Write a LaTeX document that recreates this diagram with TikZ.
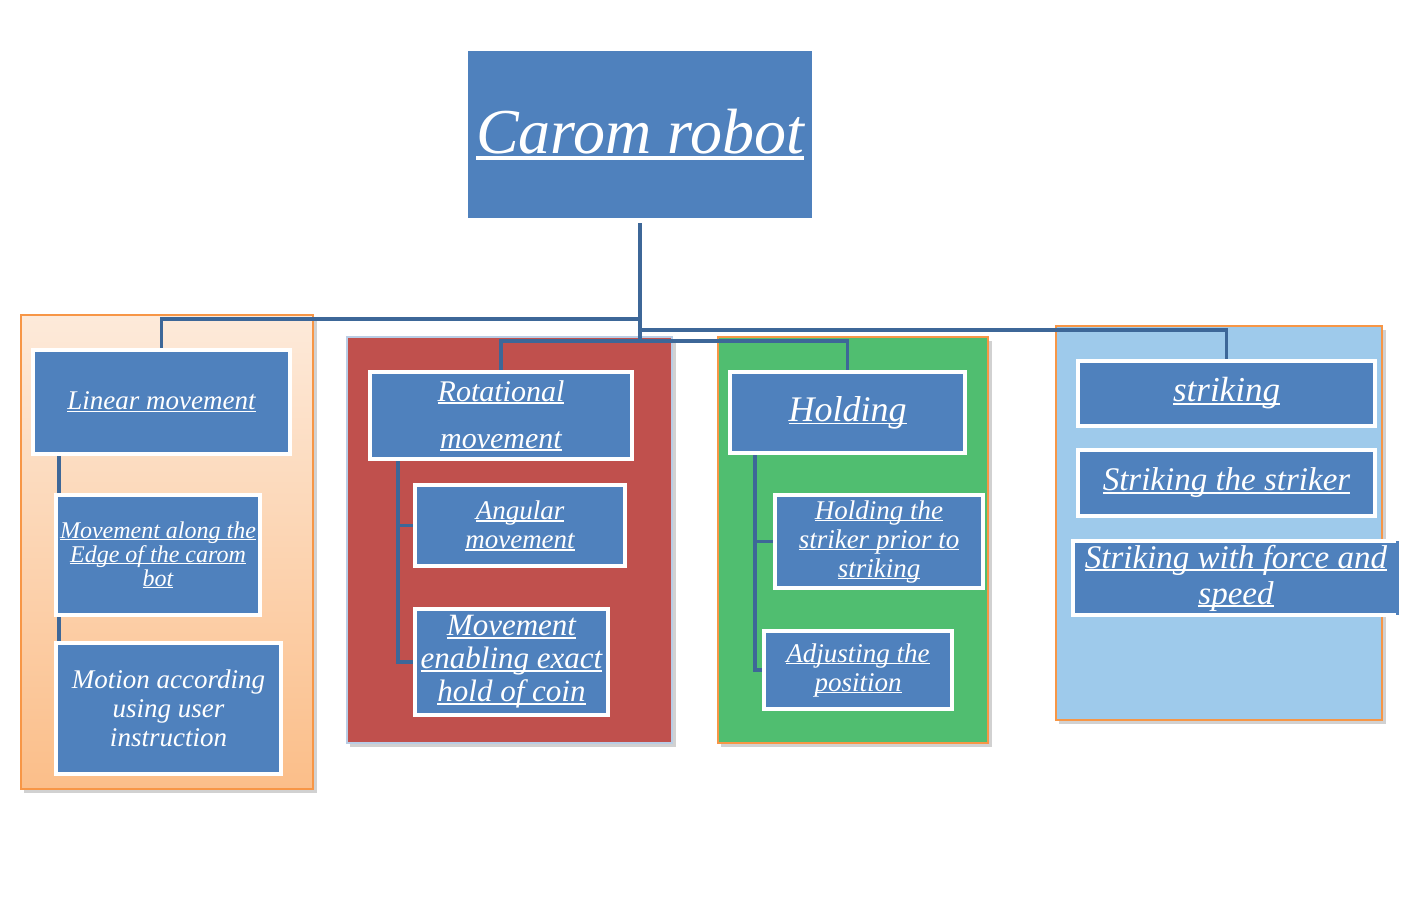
\documentclass[tikz,border=0pt]{standalone}
\usepackage{fontspec}
\setmainfont{Liberation Serif}
\usetikzlibrary{calc}
\definecolor{boxblue}{HTML}{4F81BD}
\definecolor{linkblue}{RGB}{61,103,152}
\definecolor{porange}{HTML}{F79646}
\definecolor{pred}{HTML}{C0504D}
\definecolor{pgreen}{RGB}{80,190,112}
\definecolor{plblue}{RGB}{158,202,235}
\definecolor{pedge}{RGB}{185,205,229}
\definecolor{otop}{RGB}{253,234,218}
\definecolor{obot}{RGB}{251,190,137}
\newcommand\myul[1]{\leavevmode\hbox{\setbox0\hbox{#1}\rlap{\rule[-0.09em]{\wd0}{0.05em}}\box0}}
\pgfdeclarelayer{white}
\pgfdeclarelayer{back}
\pgfdeclarelayer{mid}
\pgfsetlayers{white,back,mid,main}
\tikzset{
  panel/.style={rectangle, inner sep=0pt, outer sep=0pt, line width=2pt},
  cbox/.style={rectangle, fill=boxblue, draw=white, line width=3.5pt, inner sep=0pt, outer sep=0pt, text=white, align=center},
  fs/.style 2 args={font=\itshape\fontsize{#1}{#2}\selectfont},
  link/.style={draw=linkblue, line width=3.8pt},
  pshadow/.style={fill=black, opacity=0.18}
}
\begin{document}
\begin{tikzpicture}[x=1pt,y=-1pt]
\begin{pgfonlayer}{white}
\fill[white] (0,0) rectangle (1413,911);
\end{pgfonlayer}
\useasboundingbox (0,0) rectangle (1413,911);

% boxes
\node[cbox, draw=none, fs={64}{66}, minimum width=344pt, minimum height=167pt] (top) at (640,134.5) {\myul{Carom robot}};

\node[cbox, fs={27}{29}, minimum width=257pt, minimum height=104pt] (lin) at (161.5,402) {\myul{Linear movement}};
\node[cbox, fs={24}{24}, minimum width=204pt, minimum height=120pt] (edge) at (158,555) {\myul{Movement along the}\\\myul{Edge of the carom}\\\myul{bot}};
\node[cbox, fs={27}{29}, minimum width=225pt, minimum height=131pt] (mot) at (168.5,708.5) {Motion according\\using user\\instruction};

\node[cbox, fs={30}{47}, minimum width=262pt, minimum height=87pt] (rot) at (501,415.5) {\myul{Rotational}\\\myul{movement}};
\node[cbox, fs={27}{29}, minimum width=210pt, minimum height=81pt] (ang) at (520,525.5) {\myul{Angular}\\\myul{movement}};
\node[cbox, fs={31}{33}, minimum width=193pt, minimum height=106pt] (mov) at (511.5,662) {\myul{Movement}\\\myul{enabling exact}\\\myul{hold of coin}};

\node[cbox, fs={36}{38}, minimum width=235pt, minimum height=81pt] (hold) at (847.5,412.5) {\myul{Holding}};
\node[cbox, fs={27}{29}, minimum width=208pt, minimum height=93pt] (hp) at (879,541.5) {\myul{Holding the}\\\myul{striker prior to}\\\myul{striking}};
\node[cbox, fs={27}{29}, minimum width=188pt, minimum height=78pt] (adj) at (858,670) {\myul{Adjusting the}\\\myul{position}};

\node[cbox, fs={35}{37}, minimum width=297pt, minimum height=65pt] (strk) at (1226.5,393.5) {\myul{striking}};
\node[cbox, fs={33}{35}, minimum width=297pt, minimum height=66pt] (sts) at (1226.5,483) {\myul{Striking the striker}};
\node[cbox, draw=none, fs={33}{36}, minimum width=326pt, minimum height=74pt] (swf) at (1236,578) {\myul{Striking with force and}\\\myul{speed}};
\draw[white, line width=3.5pt] ([xshift=-3pt]swf.north east) -- (swf.north west) -- (swf.south west) -- ([xshift=-3pt]swf.south east);

% connectors
\begin{pgfonlayer}{mid}
\coordinate (j1) at (640,319);
\coordinate (j2) at (640,330);
\coordinate (j3) at (640,341);
\draw[link] ([yshift=-5pt]top.south) -- (j3);
\draw[link] (j1) -| (lin.north);
\draw[link] (j2) -| (strk.north);
\draw[link] (rot.north) |- (j3) -| (hold.north);
\draw[link] ([xshift=3pt]edge.west |- lin.south) -- ([xshift=3pt]mot.north west);
\coordinate (rv) at ([xshift=28pt]rot.south west);
\draw[link] (rv) |- (mov.west);
\draw[link] (ang.west) -| (rv);
\coordinate (gv) at ([xshift=25pt]hold.south west);
\draw[link] (gv) |- (adj.west);
\draw[link] (hp.west) -| (gv);
\end{pgfonlayer}

% panels
\begin{pgfonlayer}{back}
\fill[pshadow] (24,319) rectangle (317,793);
\fill[pshadow] (350,341) rectangle (676,747);
\fill[pshadow] (721,341) rectangle (992,747);
\fill[pshadow] (1059,330) rectangle (1386,724);
\node[panel, draw=porange, top color=otop, bottom color=obot, minimum width=292pt, minimum height=474pt] (p1) at (167,552) {};
\node[panel, draw=pedge, fill=pred, minimum width=325pt, minimum height=406pt] (p2) at (509.5,540) {};
\node[panel, draw=porange, fill=pgreen, minimum width=270pt, minimum height=406pt] (p3) at (853,540) {};
\node[panel, draw=porange, fill=plblue, minimum width=326pt, minimum height=394pt] (p4) at (1219,523) {};
\end{pgfonlayer}
\end{tikzpicture}
\end{document}
